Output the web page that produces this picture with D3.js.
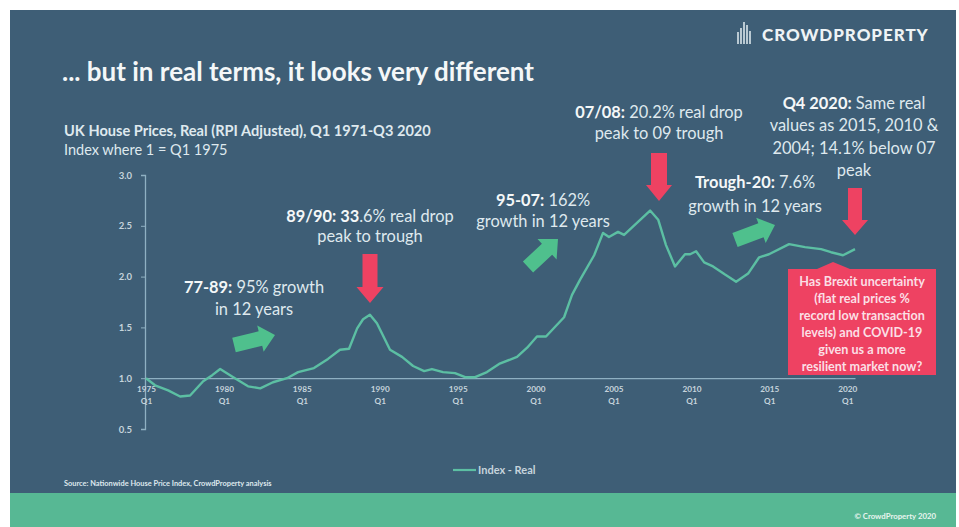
<!DOCTYPE html>
<html>
<head>
<meta charset="utf-8">
<script src="https://cdn.jsdelivr.net/npm/d3@7/dist/d3.min.js"></script>
<style>
html,body{margin:0;padding:0;background:#fff;}
svg{display:block;}
text{font-family:Lato,"Open Sans",sans-serif;}
</style>
</head>
<body>
<svg id="chart" width="959" height="527"></svg>
<script>
// House price index, real terms, 1 = Q1 1975
const years = [1975,1975.58,1976.42,1977.19,1977.83,1978.67,1979.25,1979.76,1980.6,1981.55,1982.33,1983.15,1984.05,1984.76,1985.78,1986.68,1987.45,1988.03,1988.55,1988.93,1989.37,1989.82,1990.66,1991.43,1992.14,1992.85,1993.35,1994.06,1994.83,1995.48,1996.12,1996.88,1997.66,1998.81,1999.46,2000.09,2000.67,2001.83,2002.34,2002.86,2003.76,2004.33,2004.71,2005.29,2005.68,2007.35,2007.87,2008.37,2008.95,2009.59,2009.92,2010.3,2010.82,2011.39,2012.16,2012.87,2013.64,2014.35,2014.98,2016.27,2017.29,2018.32,2018.96,2019.73,2020.5];
const realIndex = [1,0.93,0.88,0.82,0.83,0.97,1.03,1.09,1.01,0.92,0.9,0.96,1,1.06,1.1,1.19,1.28,1.29,1.49,1.58,1.625,1.54,1.28,1.21,1.12,1.07,1.09,1.06,1.05,1.01,1.01,1.06,1.14,1.21,1.3,1.41,1.41,1.6,1.82,1.97,2.21,2.43,2.39,2.44,2.41,2.65,2.56,2.31,2.1,2.22,2.22,2.25,2.14,2.1,2.02,1.95,2.03,2.19,2.22,2.32,2.29,2.27,2.24,2.21,2.27];

const yTicks = [0.5,1,1.5,2,2.5,3];
const xTicks = [1975,1980,1985,1990,1995,2000,2005,2010,2015,2020];
const xTickQuarter = "Q1";

const titleText = "... but in real terms, it looks very different";
const subtitleLines = ["UK House Prices, Real (RPI Adjusted), Q1 1971-Q3 2020","Index where 1 = Q1 1975"];
const sourceText = "Source: Nationwide House Price Index, CrowdProperty analysis";
const copyrightText = "© CrowdProperty 2020";
const brandText = "CROWDPROPERTY";
const legendText = "Index - Real";
const calloutLines = ["Has Brexit uncertainty","(flat real prices %","record low transaction","levels) and COVID-19","given us a more","resilient market now?"];

const COL = {panel:"#3e5e76", band:"#57b894", line:"#5cbfa3", axis:"#8fb0c2", text:"#dfe9ee", red:"#ee4262", green:"#4fc08d"};

const svg = d3.select("#chart");

// backdrop: slate panel with a green footer band
svg.append("rect").attr("x",10).attr("y",10).attr("width",946).attr("height",517).attr("fill",COL.panel);
svg.append("rect").attr("x",10).attr("y",493).attr("width",946).attr("height",34).attr("fill",COL.band);

const x = d3.scaleLinear().domain([1975,2020.5]).range([146,855]);
const y = d3.scaleLinear().domain([0.5,3]).range([429,175]);

// heading block
svg.append("text").attr("x",62).attr("y",81).attr("font-size",26).attr("font-weight",700).attr("fill","#f4f7f8").text(titleText);
svg.append("text").attr("x",64).attr("y",136).attr("font-size",14.6).attr("font-weight",700).attr("fill",COL.text).text(subtitleLines[0]);
svg.append("text").attr("x",64).attr("y",155).attr("font-size",14.5).attr("fill",COL.text).text(subtitleLines[1]);

// brand mark: a small cluster of towers next to the name
const logo = svg.append("g").attr("fill","#b9c9d2");
[[737,32,2],[740,28,2],[743,22,2],[746,25,2],[749,31,2]].forEach(([bx,by,bw])=>{
  logo.append("rect").attr("x",bx).attr("y",by).attr("width",bw).attr("height",44-by);
});
svg.append("text").attr("x",762).attr("y",41).attr("font-size",17).attr("font-weight",900)
  .attr("letter-spacing",0.95).attr("fill","#eef3f5").text(brandText);

// axes
const yAxis = d3.axisLeft(y).tickValues(yTicks).tickSize(4).tickPadding(9).tickFormat(d3.format(".1f"));
const gy = svg.append("g").attr("transform",`translate(${x(1975)-1},0)`).call(yAxis);
const gx = svg.append("g").attr("transform",`translate(0,${y(1)})`)
  .call(d3.axisBottom(x).tickValues(xTicks).tickSize(0).tickPadding(8).tickFormat(d3.format("d")));
[gy,gx].forEach(g=>{
  g.selectAll(".domain").attr("stroke",COL.axis).attr("stroke-width",1.3);
  g.selectAll(".tick line").attr("stroke",COL.axis);
  g.selectAll("text").attr("fill","#c6d4dc").attr("font-size",8.2).attr("font-weight",700)
    .style("font-family","Lato, sans-serif");
});
gy.selectAll("text").attr("font-size",9.5);
gx.selectAll(".tick text").each(function(d){
  const t = d3.select(this), dy = t.attr("dy");
  t.text(null);
  t.append("tspan").attr("x",0).attr("dy",dy).text(d);
  t.append("tspan").attr("x",0).attr("dy","1.5em").text(xTickQuarter);
});

// index line
svg.append("path").datum(d3.zip(years,realIndex))
  .attr("fill","none").attr("stroke",COL.line).attr("stroke-width",2.4).attr("stroke-linejoin","round")
  .attr("d",d3.line().x(d=>x(d[0])).y(d=>y(d[1])).curve(d3.curveLinear));

// block arrows, drawn pointing right from the origin then placed along a segment
function blockArrow(x0,y0,x1,y1,shaft,head,headLen,fill){
  const len = Math.hypot(x1-x0,y1-y0), ang = Math.atan2(y1-y0,x1-x0)*180/Math.PI;
  const pts = [[0,-shaft/2],[len-headLen,-shaft/2],[len-headLen,-head/2],[len,0],[len-headLen,head/2],[len-headLen,shaft/2],[0,shaft/2]];
  svg.append("polygon").attr("points",pts.map(p=>p.join(",")).join(" "))
    .attr("transform",`translate(${x0},${y0}) rotate(${ang})`).attr("fill",fill);
}
blockArrow(370,254,370,303,15,27,16,COL.red);
blockArrow(659,153,659,201,16,26,16,COL.red);
blockArrow(855,188,855,235,14,26,15,COL.red);
blockArrow(234,345,275,335,15,27,15,COL.green);
blockArrow(528,267,558,239,15,28,15,COL.green);
blockArrow(735,240,775,225,15,27,15,COL.green);

// annotation text: [centre x, first baseline, line gap, lines of [bold, regular]]
const notes = [
  [254,293,22,[["77-89:"," 95% growth"],["","in 12 years"]]],
  [370,222,20,[["89/90: 33",".6% real drop"],["","peak to trough"]]],
  [543,206,21,[["95-07:"," 162%"],["","growth in 12 years"]]],
  [659,118,21,[["07/08:"," 20.2% real drop"],["","peak to 09 trough"]]],
  [755,188,24,[["Trough-20:"," 7.6%"],["","growth in 12 years"]]],
  [854,109,22.3,[["Q4 2020:"," Same real"],["","values as 2015, 2010 &"],["","2004; 14.1% below 07"],["","peak"]]]
];
notes.forEach(([cx,top,gap,rows])=>{
  rows.forEach((row,i)=>{
    const t = svg.append("text").attr("x",cx).attr("y",top+i*gap).attr("text-anchor","middle")
      .attr("font-size",16.4).attr("fill",COL.text);
    if(row[0]) t.append("tspan").attr("font-weight",700).attr("fill","#f4f7f8").text(row[0]);
    t.append("tspan").text(row[1]);
  });
});

// pink callout with a pointer towards the line's end
svg.append("polygon")
  .attr("points","788,269 817,269 833,262 850,269 936,269 936,375 788,375")
  .attr("fill",COL.red);
calloutLines.forEach((s,i)=>{
  svg.append("text").attr("x",862).attr("y",285.5+i*17).attr("text-anchor","middle")
    .attr("font-size",12.6).attr("font-weight",700).attr("fill","#fbdfe5").text(s);
});

// legend, source and footer
svg.append("line").attr("x1",453).attr("x2",476).attr("y1",470).attr("y2",470).attr("stroke",COL.line).attr("stroke-width",2.2);
svg.append("text").attr("x",478).attr("y",474).attr("font-size",11).attr("font-weight",700).attr("fill","#c6d4dc").text(legendText);
svg.append("text").attr("x",64).attr("y",485.5).attr("font-size",7.4).attr("font-weight",700).attr("fill","#dfe9ee").text(sourceText);
svg.append("text").attr("x",936).attr("y",519).attr("text-anchor","end").attr("font-size",7.8).attr("font-weight",700).attr("fill","#e8f5ef").text(copyrightText);
</script>
</body>
</html>
